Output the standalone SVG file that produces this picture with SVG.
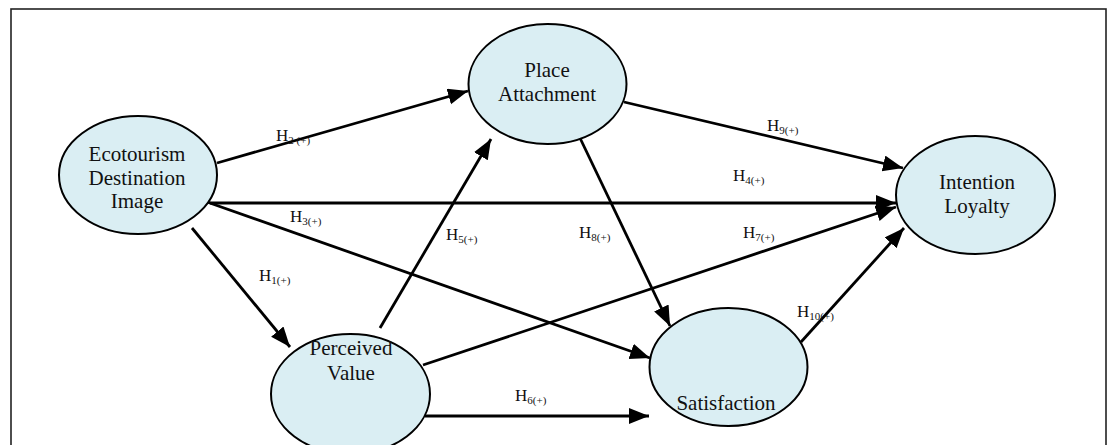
<svg xmlns="http://www.w3.org/2000/svg" width="1110" height="445" viewBox="0 0 1110 445">
<defs>
<style>
.node{fill:#DAEEF3;stroke:#000;stroke-width:2}
.nt{font-family:"Liberation Serif","Times New Roman",serif;font-size:21px;fill:#111;text-anchor:middle}
.lb{font-family:"Liberation Serif","Times New Roman",serif;font-size:17px;fill:#111}
.sb{font-size:11px}
.edge{stroke:#000;stroke-width:2.8;fill:none;marker-end:url(#ah)}
</style>
<marker id="ah" markerUnits="userSpaceOnUse" markerWidth="22" markerHeight="18" refX="20" refY="8" orient="auto">
<path d="M0,0 L20,8 L0,16 Z" fill="#000"/>
</marker>
</defs>
<rect x="0" y="0" width="1110" height="445" fill="#fff"/>
<rect x="11" y="9" width="1095" height="460" fill="none" stroke="#222" stroke-width="1.6"/>
<g id="connectors">
<line class="edge" x1="217" y1="163" x2="468" y2="91"/>
<line class="edge" x1="624" y1="102" x2="903" y2="168"/>
<line class="edge" x1="210" y1="203" x2="896" y2="203"/>
<line class="edge" x1="423" y1="365" x2="896" y2="207"/>
<line class="edge" x1="207" y1="202" x2="650" y2="358"/>
<line class="edge" x1="192" y1="228" x2="290" y2="347"/>
<line class="edge" x1="380" y1="328" x2="491" y2="139"/>
<line class="edge" x1="580" y1="138" x2="670" y2="326"/>
<line class="edge" x1="425" y1="416" x2="649" y2="416"/>
<line class="edge" x1="801" y1="342" x2="904" y2="228"/>
</g>
<g id="labels">
<text class="lb" x="276" y="141">H<tspan class="sb" dy="3">2 (+)</tspan></text>
<text class="lb" x="767" y="131">H<tspan class="sb" dy="3">9(+)</tspan></text>
<text class="lb" x="733" y="181">H<tspan class="sb" dy="3">4(+)</tspan></text>
<text class="lb" x="290" y="222">H<tspan class="sb" dy="3">3(+)</tspan></text>
<text class="lb" x="446" y="240">H<tspan class="sb" dy="3">5(+)</tspan></text>
<text class="lb" x="579" y="238">H<tspan class="sb" dy="3">8(+)</tspan></text>
<text class="lb" x="743" y="238">H<tspan class="sb" dy="3">7(+)</tspan></text>
<text class="lb" x="259" y="281">H<tspan class="sb" dy="3">1(+)</tspan></text>
<text class="lb" x="515" y="401">H<tspan class="sb" dy="3">6(+)</tspan></text>
<text class="lb" x="797" y="317">H<tspan class="sb" dy="3">10(+)</tspan></text>
</g>
<g id="node-edi">
<ellipse class="node" cx="138" cy="175" rx="79" ry="59"/>
<text class="nt" x="137" y="161">Ecotourism</text>
<text class="nt" x="137" y="185">Destination</text>
<text class="nt" x="137" y="208">Image</text>
</g>
<g id="node-pa">
<ellipse class="node" cx="547.5" cy="84" rx="79" ry="60"/>
<text class="nt" x="547" y="77">Place</text>
<text class="nt" x="547" y="101">Attachment</text>
</g>
<g id="node-il">
<ellipse class="node" cx="975.5" cy="195" rx="79.5" ry="59"/>
<text class="nt" x="977" y="189">Intention</text>
<text class="nt" x="977" y="213">Loyalty</text>
</g>
<g id="node-pv">
<ellipse class="node" cx="350.5" cy="394" rx="79.5" ry="60"/>
<text class="nt" x="351" y="355">Perceived</text>
<text class="nt" x="351" y="380">Value</text>
</g>
<g id="node-sat">
<ellipse class="node" cx="728.5" cy="367" rx="79" ry="59"/>
<text class="nt" x="726" y="410">Satisfaction</text>
</g>
</svg>
